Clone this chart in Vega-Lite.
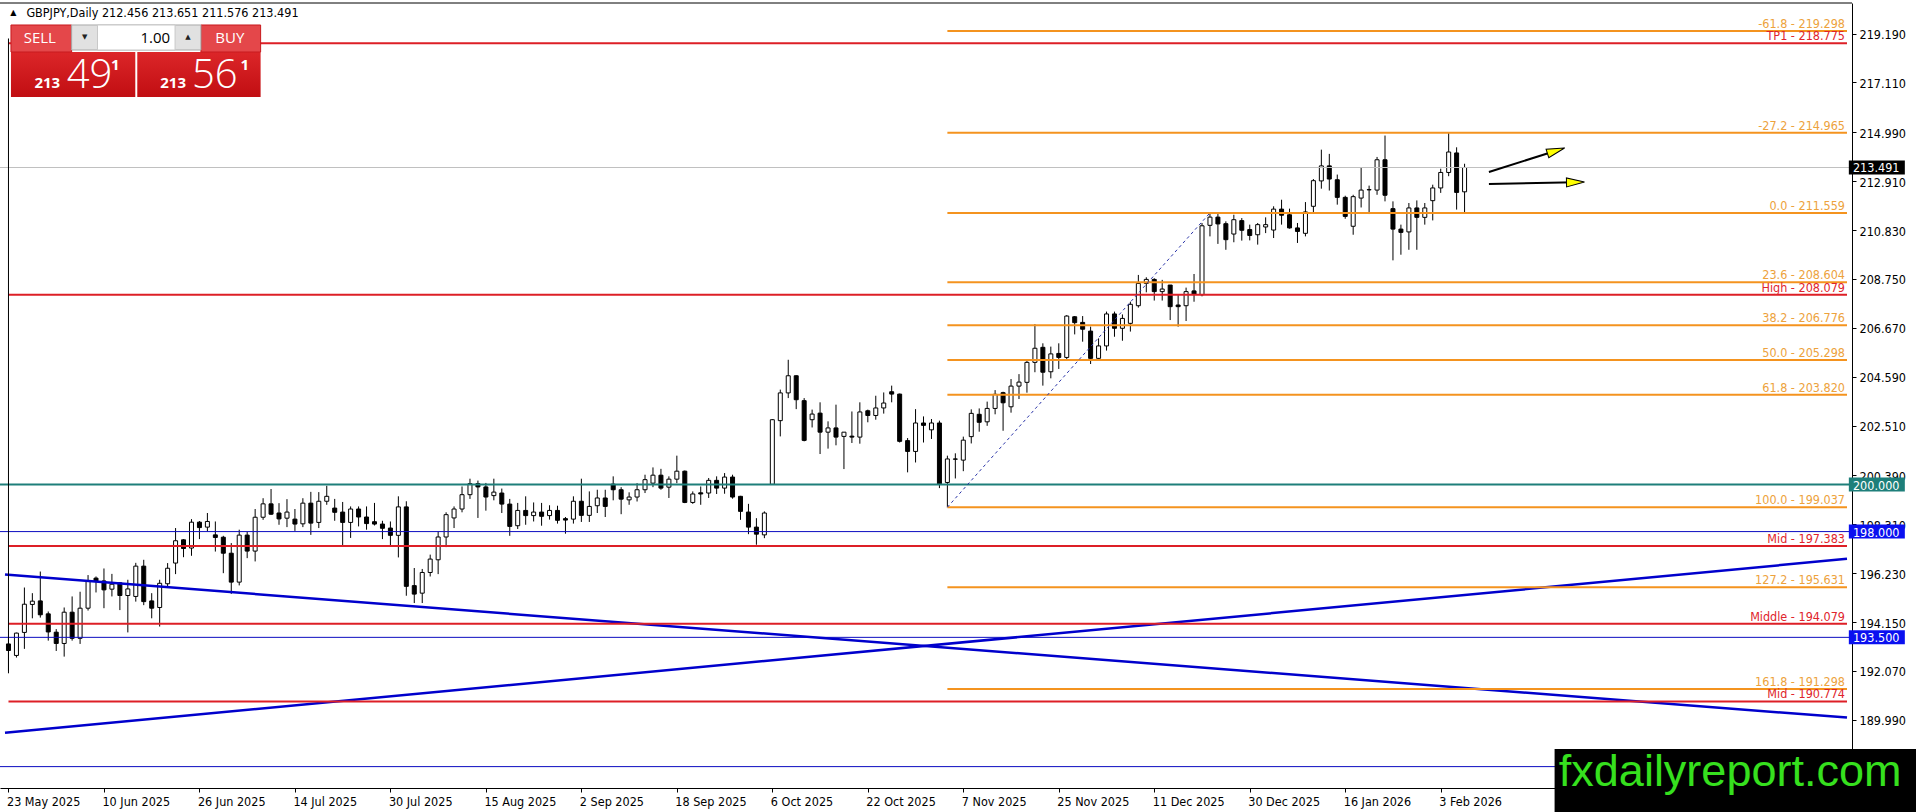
{
"$schema":"https://vega.github.io/schema/vega-lite/v6.json",
"width":1852,"height":785,
"autosize":{"type":"none"},
"padding":{"left":0,"top":3,"right":64,"bottom":24},
"background":"#ffffff",
"config":{"view":{"stroke":null},
"axisX":{"grid":false,"labelAlign":"left","labelBaseline":"top","labelPadding":3,"labelOffset":-2,"labelFlush":false,"labelOverlap":false,"labelBound":false,"labelFont":"DejaVu Sans Condensed, DejaVu Sans, sans-serif","labelFontSize":12.5,"labelColor":"#000000","tickSize":4,"tickColor":"#000000","domainColor":"#000000","domainWidth":1},
"axisY":{"grid":false,"labelFont":"DejaVu Sans Condensed, DejaVu Sans, sans-serif","labelFontSize":12.5,"labelColor":"#000000","labelPadding":3,"labelBaseline":"middle","labelOffset":1,"labelOverlap":false,"labelFlush":false,"labelBound":false,"tickSize":4,"tickColor":"#000000","domainColor":"#000000","domainWidth":1}},
"datasets":{
"candles":[
{"i":0,"o":193.22,"h":193.53,"l":191.97,"c":192.94},{"i":1,"o":192.73,"h":193.70,"l":192.64,"c":193.68},{"i":2,"o":193.71,"h":195.62,"l":193.01,"c":194.91},{"i":3,"o":194.90,"h":195.38,"l":194.31,"c":195.04},{"i":4,"o":195.05,"h":196.30,"l":194.34,"c":194.46},{"i":5,"o":194.50,"h":194.60,"l":193.36,"c":193.73},{"i":6,"o":193.72,"h":193.85,"l":192.92,"c":193.24},{"i":7,"o":193.24,"h":194.77,"l":192.68,"c":194.57},{"i":8,"o":194.57,"h":195.24,"l":193.36,"c":193.46},{"i":9,"o":193.46,"h":195.44,"l":193.22,"c":194.74},
{"i":10,"o":194.74,"h":196.15,"l":194.64,"c":195.90},{"i":11,"o":196.02,"h":196.09,"l":195.41,"c":195.90},{"i":12,"o":195.90,"h":196.43,"l":194.74,"c":195.52},{"i":13,"o":195.55,"h":196.20,"l":195.24,"c":195.76},{"i":14,"o":195.82,"h":195.85,"l":194.66,"c":195.28},{"i":15,"o":195.28,"h":195.95,"l":193.71,"c":195.56},{"i":16,"o":195.24,"h":196.67,"l":195.02,"c":196.53},{"i":17,"o":196.53,"h":196.80,"l":194.87,"c":195.02},{"i":18,"o":195.05,"h":195.38,"l":194.31,"c":194.74},{"i":19,"o":194.77,"h":195.95,"l":193.96,"c":195.80},
{"i":20,"o":195.78,"h":196.66,"l":195.66,"c":196.44},{"i":21,"o":196.66,"h":198.15,"l":196.19,"c":197.61},{"i":22,"o":197.65,"h":197.68,"l":196.91,"c":197.28},{"i":23,"o":197.30,"h":198.53,"l":196.97,"c":198.40},{"i":24,"o":198.40,"h":198.45,"l":197.68,"c":198.17},{"i":25,"o":198.19,"h":198.79,"l":198.00,"c":198.43},{"i":26,"o":197.86,"h":198.43,"l":197.15,"c":197.75},{"i":27,"o":197.76,"h":197.82,"l":196.23,"c":197.08},{"i":28,"o":197.08,"h":197.51,"l":195.35,"c":195.85},{"i":29,"o":195.85,"h":198.08,"l":195.71,"c":197.85},
{"i":30,"o":197.85,"h":197.99,"l":196.87,"c":197.17},{"i":31,"o":197.17,"h":198.96,"l":196.73,"c":198.61},{"i":32,"o":198.61,"h":199.42,"l":198.50,"c":199.18},{"i":33,"o":199.18,"h":199.81,"l":198.71,"c":198.74},{"i":34,"o":198.79,"h":199.21,"l":198.29,"c":198.54},{"i":35,"o":198.57,"h":199.38,"l":198.19,"c":198.83},{"i":36,"o":198.53,"h":198.96,"l":198.03,"c":198.32},{"i":37,"o":198.33,"h":199.42,"l":198.19,"c":199.21},{"i":38,"o":199.21,"h":199.69,"l":197.86,"c":198.36},{"i":39,"o":198.39,"h":199.68,"l":198.15,"c":199.29},
{"i":40,"o":199.29,"h":199.95,"l":199.14,"c":199.50},{"i":41,"o":199.00,"h":199.39,"l":198.46,"c":198.82},{"i":42,"o":198.83,"h":199.26,"l":197.40,"c":198.39},{"i":43,"o":198.39,"h":199.07,"l":197.73,"c":198.96},{"i":44,"o":198.96,"h":199.07,"l":198.22,"c":198.62},{"i":45,"o":198.62,"h":199.07,"l":198.08,"c":198.34},{"i":46,"o":198.42,"h":199.22,"l":198.26,"c":198.32},{"i":47,"o":198.32,"h":198.46,"l":197.68,"c":198.14},{"i":48,"o":198.15,"h":198.43,"l":197.41,"c":197.84},{"i":49,"o":197.84,"h":199.50,"l":196.90,"c":199.05},
{"i":50,"o":199.05,"h":199.29,"l":195.27,"c":195.67},{"i":51,"o":195.70,"h":196.45,"l":194.96,"c":195.34},{"i":52,"o":195.38,"h":196.41,"l":194.96,"c":196.26},{"i":53,"o":196.26,"h":197.02,"l":196.09,"c":196.83},{"i":54,"o":196.80,"h":198.01,"l":196.19,"c":197.77},{"i":55,"o":197.77,"h":198.82,"l":197.34,"c":198.72},{"i":56,"o":198.58,"h":199.07,"l":198.15,"c":198.96},{"i":57,"o":198.96,"h":199.92,"l":198.82,"c":199.57},{"i":58,"o":199.57,"h":200.25,"l":199.39,"c":200.04},{"i":59,"o":200.04,"h":200.17,"l":198.58,"c":199.90},
{"i":60,"o":199.90,"h":200.07,"l":198.89,"c":199.47},{"i":61,"o":199.53,"h":200.25,"l":199.33,"c":199.68},{"i":62,"o":199.64,"h":199.83,"l":198.79,"c":199.17},{"i":63,"o":199.17,"h":199.39,"l":197.82,"c":198.22},{"i":64,"o":198.25,"h":199.22,"l":198.11,"c":198.90},{"i":65,"o":198.90,"h":199.50,"l":198.29,"c":198.68},{"i":66,"o":198.68,"h":199.24,"l":198.43,"c":198.83},{"i":67,"o":198.83,"h":199.22,"l":198.25,"c":198.65},{"i":68,"o":198.68,"h":199.12,"l":198.51,"c":198.90},{"i":69,"o":198.90,"h":199.10,"l":198.34,"c":198.48},
{"i":70,"o":198.55,"h":198.62,"l":197.91,"c":198.49},{"i":71,"o":198.53,"h":199.50,"l":198.34,"c":199.29},{"i":72,"o":199.29,"h":200.25,"l":198.41,"c":198.69},{"i":73,"o":198.69,"h":199.71,"l":198.41,"c":199.07},{"i":74,"o":199.10,"h":199.78,"l":198.79,"c":199.43},{"i":75,"o":199.43,"h":199.78,"l":198.62,"c":199.07},{"i":76,"o":200.02,"h":200.35,"l":199.33,"c":199.78},{"i":77,"o":199.78,"h":199.89,"l":198.74,"c":199.38},{"i":78,"o":199.35,"h":199.67,"l":199.14,"c":199.47},{"i":79,"o":199.47,"h":200.06,"l":199.28,"c":199.78},
{"i":80,"o":199.78,"h":200.42,"l":199.64,"c":200.21},{"i":81,"o":200.06,"h":200.73,"l":199.89,"c":200.40},{"i":82,"o":200.40,"h":200.67,"l":199.78,"c":199.85},{"i":83,"o":199.89,"h":200.35,"l":199.43,"c":200.23},{"i":84,"o":200.23,"h":201.23,"l":200.06,"c":200.57},{"i":85,"o":200.57,"h":200.60,"l":199.21,"c":199.24},{"i":86,"o":199.24,"h":199.71,"l":199.18,"c":199.60},{"i":87,"o":199.65,"h":199.92,"l":199.14,"c":199.60},{"i":88,"o":199.64,"h":200.28,"l":199.43,"c":200.18},{"i":89,"o":200.18,"h":200.35,"l":199.60,"c":199.85},
{"i":90,"o":199.85,"h":200.49,"l":199.61,"c":200.32},{"i":91,"o":200.32,"h":200.42,"l":199.40,"c":199.47},{"i":92,"o":199.50,"h":199.52,"l":198.50,"c":198.86},{"i":93,"o":198.83,"h":199.18,"l":197.89,"c":198.19},{"i":94,"o":198.19,"h":198.57,"l":197.44,"c":197.89},{"i":95,"o":197.86,"h":198.86,"l":197.72,"c":198.79},{"i":96,"o":200.01,"h":202.79,"l":200.01,"c":202.76},{"i":97,"o":202.72,"h":204.04,"l":202.05,"c":203.90},{"i":98,"o":203.90,"h":205.31,"l":203.68,"c":204.63},{"i":99,"o":204.63,"h":204.65,"l":203.21,"c":203.61},
{"i":100,"o":203.57,"h":203.68,"l":201.84,"c":201.88},{"i":101,"o":202.76,"h":203.19,"l":202.43,"c":203.00},{"i":102,"o":203.04,"h":203.50,"l":201.30,"c":202.23},{"i":103,"o":202.23,"h":202.69,"l":201.53,"c":202.41},{"i":104,"o":202.41,"h":203.40,"l":201.67,"c":202.02},{"i":105,"o":202.05,"h":202.23,"l":200.66,"c":202.23},{"i":106,"o":202.06,"h":203.11,"l":201.77,"c":202.02},{"i":107,"o":202.02,"h":203.50,"l":201.74,"c":203.09},{"i":108,"o":203.14,"h":203.19,"l":202.65,"c":202.94},{"i":109,"o":202.94,"h":203.78,"l":202.76,"c":203.26},
{"i":110,"o":203.26,"h":203.92,"l":203.02,"c":203.47},{"i":111,"o":203.95,"h":204.21,"l":203.50,"c":203.85},{"i":112,"o":203.85,"h":203.87,"l":201.79,"c":201.84},{"i":113,"o":201.87,"h":201.98,"l":200.52,"c":201.41},{"i":114,"o":201.41,"h":203.21,"l":200.94,"c":202.62},{"i":115,"o":202.62,"h":202.90,"l":201.79,"c":202.52},{"i":116,"o":202.33,"h":202.79,"l":201.94,"c":202.62},{"i":117,"o":202.62,"h":202.72,"l":199.85,"c":200.03},{"i":118,"o":200.09,"h":201.23,"l":199.037,"c":201.09},{"i":119,"o":201.09,"h":201.33,"l":200.26,"c":201.08},
{"i":120,"o":201.04,"h":202.04,"l":200.57,"c":201.89},{"i":121,"o":202.04,"h":203.20,"l":201.75,"c":203.03},{"i":122,"o":202.99,"h":203.24,"l":202.25,"c":202.65},{"i":123,"o":202.67,"h":203.53,"l":202.50,"c":203.24},{"i":124,"o":203.24,"h":204.02,"l":202.99,"c":203.84},{"i":125,"o":203.91,"h":203.95,"l":202.29,"c":203.48},{"i":126,"o":203.31,"h":204.49,"l":203.06,"c":204.19},{"i":127,"o":204.19,"h":204.70,"l":203.64,"c":204.36},{"i":128,"o":204.35,"h":205.33,"l":203.91,"c":205.20},{"i":129,"o":205.20,"h":206.83,"l":204.78,"c":205.80},
{"i":130,"o":205.84,"h":206.01,"l":204.21,"c":204.78},{"i":131,"o":204.80,"h":205.87,"l":204.52,"c":205.56},{"i":132,"o":205.58,"h":206.01,"l":204.92,"c":205.41},{"i":133,"o":205.41,"h":207.21,"l":205.27,"c":207.17},{"i":134,"o":207.14,"h":207.17,"l":206.39,"c":206.89},{"i":135,"o":206.90,"h":207.17,"l":206.08,"c":206.61},{"i":136,"o":206.53,"h":206.72,"l":205.13,"c":205.37},{"i":137,"o":205.37,"h":206.22,"l":205.26,"c":205.90},{"i":138,"o":205.90,"h":207.36,"l":205.70,"c":207.26},{"i":139,"o":207.26,"h":207.36,"l":206.29,"c":206.65},
{"i":140,"o":206.65,"h":207.24,"l":206.12,"c":207.07},{"i":141,"o":206.86,"h":207.78,"l":206.51,"c":207.67},{"i":142,"o":207.61,"h":208.92,"l":207.53,"c":208.56},{"i":143,"o":208.56,"h":208.82,"l":208.18,"c":208.73},{"i":144,"o":208.73,"h":208.78,"l":207.83,"c":208.21},{"i":145,"o":208.21,"h":208.71,"l":207.83,"c":208.32},{"i":146,"o":208.49,"h":208.49,"l":207.00,"c":207.57},{"i":147,"o":207.64,"h":208.07,"l":206.72,"c":207.57},{"i":148,"o":207.61,"h":208.38,"l":206.96,"c":208.21},{"i":149,"o":208.24,"h":208.96,"l":207.78,"c":208.10},
{"i":150,"o":208.08,"h":211.13,"l":208.01,"c":211.01},{"i":151,"o":211.03,"h":211.559,"l":210.56,"c":211.38},{"i":152,"o":211.38,"h":211.51,"l":210.24,"c":211.09},{"i":153,"o":211.10,"h":211.20,"l":209.99,"c":210.42},{"i":154,"o":210.66,"h":211.48,"l":210.31,"c":211.27},{"i":155,"o":211.23,"h":211.34,"l":210.38,"c":210.82},{"i":156,"o":210.85,"h":211.06,"l":210.39,"c":210.60},{"i":157,"o":210.63,"h":211.13,"l":210.21,"c":211.06},{"i":158,"o":210.96,"h":211.37,"l":210.70,"c":211.06},{"i":159,"o":210.83,"h":211.84,"l":210.49,"c":211.72},
{"i":160,"o":211.72,"h":212.12,"l":211.06,"c":211.46},{"i":161,"o":211.48,"h":211.74,"l":210.89,"c":210.92},{"i":162,"o":210.92,"h":211.13,"l":210.28,"c":210.77},{"i":163,"o":210.69,"h":212.02,"l":210.56,"c":211.60},{"i":164,"o":211.84,"h":213.00,"l":211.55,"c":212.93},{"i":165,"o":212.92,"h":214.25,"l":212.59,"c":213.56},{"i":166,"o":213.56,"h":214.07,"l":212.51,"c":213.00},{"i":167,"o":212.97,"h":213.19,"l":211.91,"c":212.22},{"i":168,"o":212.22,"h":212.29,"l":211.31,"c":211.41},{"i":169,"o":210.99,"h":212.33,"l":210.63,"c":212.25},
{"i":170,"o":212.19,"h":213.50,"l":211.79,"c":212.53},{"i":171,"o":212.55,"h":212.72,"l":211.51,"c":212.54},{"i":172,"o":212.53,"h":213.94,"l":212.33,"c":213.82},{"i":173,"o":213.82,"h":214.85,"l":212.05,"c":212.31},{"i":174,"o":211.74,"h":212.05,"l":209.54,"c":210.87},{"i":175,"o":210.87,"h":211.06,"l":209.78,"c":210.73},{"i":176,"o":210.75,"h":211.98,"l":209.99,"c":211.77},{"i":177,"o":211.77,"h":212.09,"l":209.99,"c":211.37},{"i":178,"o":211.37,"h":211.98,"l":211.06,"c":211.77},{"i":179,"o":212.08,"h":212.76,"l":211.24,"c":212.62},
{"i":180,"o":212.62,"h":213.44,"l":212.41,"c":213.28},{"i":181,"o":213.28,"h":214.965,"l":213.12,"c":214.15},{"i":182,"o":214.11,"h":214.35,"l":211.70,"c":212.43},{"i":183,"o":212.456,"h":213.651,"l":211.576,"c":213.491}
],
"fib":[
{"p":219.298,"t":"-61.8 - 219.298"},{"p":214.965,"t":"-27.2 - 214.965"},{"p":211.559,"t":"0.0 - 211.559"},{"p":208.604,"t":"23.6 - 208.604"},{"p":206.776,"t":"38.2 - 206.776"},{"p":205.298,"t":"50.0 - 205.298"},{"p":203.820,"t":"61.8 - 203.820"},{"p":199.037,"t":"100.0 - 199.037"},{"p":195.631,"t":"127.2 - 195.631"},{"p":191.298,"t":"161.8 - 191.298"}
],
"red":[
{"p":218.775,"t":"TP1 - 218.775"},{"p":208.079,"t":"High - 208.079"},{"p":197.383,"t":"Mid - 197.383"},{"p":194.079,"t":"Middle - 194.079"},{"p":190.774,"t":"Mid - 190.774"}
],
"blue":[{"p":198.0},{"p":193.5},{"p":188.0}],
"trend":[
{"id":"down","i":-0.4375,"p":196.17},{"id":"down","i":231.0625,"p":190.085},
{"id":"up","i":-0.4375,"p":189.44},{"id":"up","i":231.0625,"p":196.84}
],
"swing":[{"i":118,"p":199.037},{"i":151,"p":211.559}],
"shafts":[
{"id":"a","i":186.06,"p":213.298},{"id":"a","i":194.49,"p":214.204},
{"id":"b","i":186.06,"p":212.79},{"id":"b","i":196.94,"p":212.864}
],
"tags":[
{"p":213.491,"t":"213.491","k":"last"},{"p":200.0,"t":"200.000","k":"teal"},{"p":198.0,"t":"198.000","k":"blue"},{"p":193.5,"t":"193.500","k":"blue"}
]
},
"layer":[
{"data":{"name":"candles"},"mark":{"type":"rule","color":"#000000","strokeWidth":1},
"encoding":{
"x":{"field":"i","type":"quantitative","title":null,"scale":{"domain":[-0.4375,231.0625],"nice":false,"zero":false},
"axis":{"orient":"bottom","title":null,"values":[0,12,24,36,48,60,72,84,96,108,120,132,144,156,168,180],
"labelExpr":"['23 May 2025','10 Jun 2025','26 Jun 2025','14 Jul 2025','30 Jul 2025','15 Aug 2025','2 Sep 2025','18 Sep 2025','6 Oct 2025','22 Oct 2025','7 Nov 2025','25 Nov 2025','11 Dec 2025','30 Dec 2025','16 Jan 2026','3 Feb 2026'][round(datum.value/12)]"}},
"y":{"field":"l","type":"quantitative","title":null,"scale":{"domain":[187.09,220.49],"nice":false,"zero":false},
"axis":{"orient":"right","title":null,"values":[189.99,192.07,194.15,196.23,198.31,200.39,202.51,204.59,206.67,208.75,210.83,212.91,214.99,217.11,219.19],"format":".3f"}},
"y2":{"field":"h"}}},
{"data":{"name":"candles"},"mark":{"type":"bar","width":4,"stroke":"#000000","strokeWidth":1},
"encoding":{
"x":{"field":"i","type":"quantitative","title":null,"scale":{"domain":[-0.4375,231.0625],"nice":false,"zero":false}},
"y":{"field":"o","type":"quantitative","title":null,"scale":{"domain":[187.09,220.49],"nice":false,"zero":false}},
"y2":{"field":"c"},
"fill":{"condition":{"test":"datum.c >= datum.o","value":"#ffffff"},"value":"#000000"}}},
{"data":{"name":"blue"},"mark":{"type":"rule","color":"#0c0cc0","strokeWidth":1},
"encoding":{"y":{"field":"p","type":"quantitative","title":null,"scale":{"domain":[187.09,220.49],"nice":false,"zero":false}}}},
{"data":{"values":[{}]},"mark":{"type":"rule","color":"#c0c0c0","strokeWidth":1},
"encoding":{"y":{"datum":213.491,"type":"quantitative","title":null,"scale":{"domain":[187.09,220.49],"nice":false,"zero":false}}}},
{"data":{"values":[{}]},"mark":{"type":"rule","color":"#1e7f7a","strokeWidth":2},
"encoding":{"y":{"datum":200.0,"type":"quantitative","title":null,"scale":{"domain":[187.09,220.49],"nice":false,"zero":false}}}},
{"data":{"name":"trend"},"mark":{"type":"line","color":"#0000cc","strokeWidth":2.5,"clip":true},
"encoding":{
"x":{"field":"i","type":"quantitative","title":null,"scale":{"domain":[-0.4375,231.0625],"nice":false,"zero":false}},
"y":{"field":"p","type":"quantitative","title":null,"scale":{"domain":[187.09,220.49],"nice":false,"zero":false}},
"detail":{"field":"id","type":"nominal"}}},
{"data":{"name":"red"},"mark":{"type":"rule","color":"#dd1f26","strokeWidth":2},
"encoding":{
"x":{"datum":0,"type":"quantitative","title":null,"scale":{"domain":[-0.4375,231.0625],"nice":false,"zero":false}},
"x2":{"datum":231.0625},
"y":{"field":"p","type":"quantitative","title":null,"scale":{"domain":[187.09,220.49],"nice":false,"zero":false}}}},
{"data":{"name":"fib"},"mark":{"type":"rule","color":"#f4931f","strokeWidth":2},
"encoding":{
"x":{"datum":118,"type":"quantitative","title":null,"scale":{"domain":[-0.4375,231.0625],"nice":false,"zero":false}},
"x2":{"datum":231.0625},
"y":{"field":"p","type":"quantitative","title":null,"scale":{"domain":[187.09,220.49],"nice":false,"zero":false}}}},
{"data":{"name":"swing"},"mark":{"type":"line","color":"#2a34a8","strokeWidth":1,"strokeDash":[3,3]},
"encoding":{
"x":{"field":"i","type":"quantitative","title":null,"scale":{"domain":[-0.4375,231.0625],"nice":false,"zero":false}},
"y":{"field":"p","type":"quantitative","title":null,"scale":{"domain":[187.09,220.49],"nice":false,"zero":false}}}},
{"data":{"name":"shafts"},"mark":{"type":"line","color":"#000000","strokeWidth":2},
"encoding":{
"x":{"field":"i","type":"quantitative","title":null,"scale":{"domain":[-0.4375,231.0625],"nice":false,"zero":false}},
"y":{"field":"p","type":"quantitative","title":null,"scale":{"domain":[187.09,220.49],"nice":false,"zero":false}},
"detail":{"field":"id","type":"nominal"}}},
{"data":{"values":[{}]},"mark":{"type":"point","shape":"M1,0L-1,-0.5L-1,0.5Z","size":324,"filled":true,"fill":"#ffff00","stroke":"#000000","strokeWidth":1,"opacity":1,"angle":-17.5},
"encoding":{
"x":{"datum":194.49,"type":"quantitative","title":null,"scale":{"domain":[-0.4375,231.0625],"nice":false,"zero":false}},
"y":{"datum":214.204,"type":"quantitative","title":null,"scale":{"domain":[187.09,220.49],"nice":false,"zero":false}}}},
{"data":{"values":[{}]},"mark":{"type":"point","shape":"M1,0L-1,-0.5L-1,0.5Z","size":324,"filled":true,"fill":"#ffff00","stroke":"#000000","strokeWidth":1,"opacity":1,"angle":-1.2},
"encoding":{
"x":{"datum":196.94,"type":"quantitative","title":null,"scale":{"domain":[-0.4375,231.0625],"nice":false,"zero":false}},
"y":{"datum":212.864,"type":"quantitative","title":null,"scale":{"domain":[187.09,220.49],"nice":false,"zero":false}}}},
{"data":{"name":"fib"},"mark":{"type":"text","align":"right","baseline":"alphabetic","dy":-3,"font":"DejaVu Sans Condensed, DejaVu Sans, sans-serif","fontSize":12.5,"color":"#eda23c"},
"encoding":{
"x":{"datum":230.81,"type":"quantitative","title":null,"scale":{"domain":[-0.4375,231.0625],"nice":false,"zero":false}},
"y":{"field":"p","type":"quantitative","title":null,"scale":{"domain":[187.09,220.49],"nice":false,"zero":false}},
"text":{"field":"t"}}},
{"data":{"name":"red"},"mark":{"type":"text","align":"right","baseline":"alphabetic","dy":-3,"font":"DejaVu Sans Condensed, DejaVu Sans, sans-serif","fontSize":12.5,"color":"#e0242c"},
"encoding":{
"x":{"datum":230.81,"type":"quantitative","title":null,"scale":{"domain":[-0.4375,231.0625],"nice":false,"zero":false}},
"y":{"field":"p","type":"quantitative","title":null,"scale":{"domain":[187.09,220.49],"nice":false,"zero":false}},
"text":{"field":"t"}}},
{"data":{"values":[{}]},"mark":{"type":"rule","color":"#000000","strokeWidth":1},
"encoding":{"y":{"datum":220.49,"type":"quantitative","title":null,"scale":{"domain":[187.09,220.49],"nice":false,"zero":false}}}},
{"data":{"values":[{}]},"mark":{"type":"rule","color":"#000000","strokeWidth":1},
"encoding":{
"x":{"datum":0,"type":"quantitative","title":null,"scale":{"domain":[-0.4375,231.0625],"nice":false,"zero":false}},
"y":{"datum":218.98,"type":"quantitative","title":null,"scale":{"domain":[187.09,220.49],"nice":false,"zero":false}},
"y2":{"datum":192.07}}},
{"data":{"values":[{"x1":0.3125,"x2":15.9375},{"x1":16.1875,"x2":31.6875}]},"mark":{"type":"rect","fill":{"gradient":"linear","x1":0,"y1":0,"x2":0,"y2":1,"stops":[{"offset":0,"color":"#dc2629"},{"offset":1,"color":"#c10e12"}]}},
"encoding":{
"x":{"field":"x1","type":"quantitative","title":null,"scale":{"domain":[-0.4375,231.0625],"nice":false,"zero":false}},
"x2":{"field":"x2"},
"y":{"datum":218.405,"type":"quantitative","title":null,"scale":{"domain":[187.09,220.49],"nice":false,"zero":false}},
"y2":{"datum":216.49}}},
{"data":{"values":[{"x1":0.3125,"x2":7.9375},{"x1":24.1875,"x2":31.6875}]},"mark":{"type":"rect","fill":"#e4474a","stroke":"#c81a1e","strokeWidth":1},
"encoding":{
"x":{"field":"x1","type":"quantitative","title":null,"scale":{"domain":[-0.4375,231.0625],"nice":false,"zero":false}},
"x2":{"field":"x2"},
"y":{"datum":219.554,"type":"quantitative","title":null,"scale":{"domain":[187.09,220.49],"nice":false,"zero":false}},
"y2":{"datum":218.405}}},
{"data":{"values":[{}]},"mark":{"type":"rect","fill":"#e1e1e1","stroke":"#a8a8a8","strokeWidth":1},
"encoding":{
"x":{"datum":7.9375,"type":"quantitative","title":null,"scale":{"domain":[-0.4375,231.0625],"nice":false,"zero":false}},
"x2":{"datum":24.1875},
"y":{"datum":219.554,"type":"quantitative","title":null,"scale":{"domain":[187.09,220.49],"nice":false,"zero":false}},
"y2":{"datum":218.49}}},
{"data":{"values":[{}]},"mark":{"type":"rect","fill":"#ffffff","stroke":"#c8c8c8","strokeWidth":1},
"encoding":{
"x":{"datum":11.1875,"type":"quantitative","title":null,"scale":{"domain":[-0.4375,231.0625],"nice":false,"zero":false}},
"x2":{"datum":20.9375},
"y":{"datum":219.554,"type":"quantitative","title":null,"scale":{"domain":[187.09,220.49],"nice":false,"zero":false}},
"y2":{"datum":218.49}}},
{"data":{"values":[{"x":3.9375,"t":"SELL"},{"x":27.8125,"t":"BUY"}]},"mark":{"type":"text","align":"center","baseline":"middle","font":"Open Sans, Roboto, sans-serif","fontSize":15,"color":"#ffffff"},
"encoding":{
"x":{"field":"x","type":"quantitative","title":null,"scale":{"domain":[-0.4375,231.0625],"nice":false,"zero":false}},
"y":{"datum":219.0,"type":"quantitative","title":null,"scale":{"domain":[187.09,220.49],"nice":false,"zero":false}},
"text":{"field":"t"}}},
{"data":{"values":[{"x":9.5625,"t":"▼"},{"x":22.5625,"t":"▲"}]},"mark":{"type":"text","align":"center","baseline":"middle","font":"DejaVu Sans, sans-serif","fontSize":7,"color":"#222222"},
"encoding":{
"x":{"field":"x","type":"quantitative","title":null,"scale":{"domain":[-0.4375,231.0625],"nice":false,"zero":false}},
"y":{"datum":219.043,"type":"quantitative","title":null,"scale":{"domain":[187.09,220.49],"nice":false,"zero":false}},
"text":{"field":"t"}}},
{"data":{"values":[{}]},"mark":{"type":"text","align":"right","baseline":"middle","font":"Open Sans, Roboto, sans-serif","fontSize":15,"color":"#000000","text":"1.00"},
"encoding":{
"x":{"datum":20.3125,"type":"quantitative","title":null,"scale":{"domain":[-0.4375,231.0625],"nice":false,"zero":false}},
"y":{"datum":219.0,"type":"quantitative","title":null,"scale":{"domain":[187.09,220.49],"nice":false,"zero":false}}}},
{"data":{"values":[{"x":4.875,"t":"213"},{"x":20.6875,"t":"213"}]},"mark":{"type":"text","align":"center","baseline":"alphabetic","font":"Open Sans, Roboto, sans-serif","fontSize":15,"fontWeight":"bold","color":"#ffffff"},
"encoding":{
"x":{"field":"x","type":"quantitative","title":null,"scale":{"domain":[-0.4375,231.0625],"nice":false,"zero":false}},
"y":{"datum":216.873,"type":"quantitative","title":null,"scale":{"domain":[187.09,220.49],"nice":false,"zero":false}},
"text":{"field":"t"}}},
{"data":{"values":[{"x":7.3125,"t":"49"},{"x":23.0625,"t":"56"}]},"mark":{"type":"text","align":"left","baseline":"alphabetic","font":"Open Sans, Roboto, sans-serif","fontSize":40,"fontWeight":300,"color":"#ffffff"},
"encoding":{
"x":{"field":"x","type":"quantitative","title":null,"scale":{"domain":[-0.4375,231.0625],"nice":false,"zero":false}},
"y":{"datum":216.873,"type":"quantitative","title":null,"scale":{"domain":[187.09,220.49],"nice":false,"zero":false}},
"text":{"field":"t"}}},
{"data":{"values":[{"x":12.9,"t":"1"},{"x":29.15,"t":"1"}]},"mark":{"type":"text","align":"left","baseline":"alphabetic","font":"Open Sans, Roboto, sans-serif","fontSize":15,"fontWeight":"bold","color":"#ffffff"},
"encoding":{
"x":{"field":"x","type":"quantitative","title":null,"scale":{"domain":[-0.4375,231.0625],"nice":false,"zero":false}},
"y":{"datum":217.64,"type":"quantitative","title":null,"scale":{"domain":[187.09,220.49],"nice":false,"zero":false}},
"text":{"field":"t"}}},
{"data":{"values":[{}]},"mark":{"type":"text","align":"center","baseline":"middle","font":"DejaVu Sans, sans-serif","fontSize":8,"color":"#000000","text":"▲"},
"encoding":{
"x":{"datum":0.6125,"type":"quantitative","title":null,"scale":{"domain":[-0.4375,231.0625],"nice":false,"zero":false}},
"y":{"datum":220.064,"type":"quantitative","title":null,"scale":{"domain":[187.09,220.49],"nice":false,"zero":false}}}},
{"data":{"values":[{}]},"mark":{"type":"text","align":"left","baseline":"middle","font":"DejaVu Sans Condensed, DejaVu Sans, sans-serif","fontSize":12.5,"color":"#000000","text":"GBPJPY,Daily  212.456 213.651 211.576 213.491"},
"encoding":{
"x":{"datum":2.25,"type":"quantitative","title":null,"scale":{"domain":[-0.4375,231.0625],"nice":false,"zero":false}},
"y":{"datum":220.064,"type":"quantitative","title":null,"scale":{"domain":[187.09,220.49],"nice":false,"zero":false}}}},
{"data":{"name":"tags"},"mark":{"type":"point","shape":"M-1,-0.25L1,-0.25L1,0.25L-1,0.25Z","size":3136,"filled":true,"opacity":1,"strokeWidth":0},
"encoding":{
"x":{"datum":234.8125,"type":"quantitative","title":null,"scale":{"domain":[-0.4375,231.0625],"nice":false,"zero":false}},
"y":{"field":"p","type":"quantitative","title":null,"scale":{"domain":[187.09,220.49],"nice":false,"zero":false}},
"fill":{"field":"k","type":"nominal","scale":{"domain":["last","teal","blue"],"range":["#000000","#1e7f7a","#0a10f0"]},"legend":null}}},
{"data":{"name":"tags"},"mark":{"type":"text","align":"left","baseline":"middle","dy":1,"font":"DejaVu Sans Condensed, DejaVu Sans, sans-serif","fontSize":12.5,"color":"#ffffff"},
"encoding":{
"x":{"datum":231.8125,"type":"quantitative","title":null,"scale":{"domain":[-0.4375,231.0625],"nice":false,"zero":false}},
"y":{"field":"p","type":"quantitative","title":null,"scale":{"domain":[187.09,220.49],"nice":false,"zero":false}},
"text":{"field":"t"}}},
{"data":{"values":[{}]},"mark":{"type":"rect","fill":"#000000"},
"encoding":{
"x":{"datum":194.3125,"type":"quantitative","title":null,"scale":{"domain":[-0.4375,231.0625],"nice":false,"zero":false}},
"x2":{"datum":240},
"y":{"datum":188.745,"type":"quantitative","title":null,"scale":{"domain":[187.09,220.49],"nice":false,"zero":false}},
"y2":{"datum":185.8}}},
{"data":{"values":[{}]},"mark":{"type":"text","align":"center","baseline":"alphabetic","font":"Liberation Sans, Arial, sans-serif","fontSize":45,"color":"#36e01e","text":"fxdailyreport.com"},
"encoding":{
"x":{"datum":216.375,"type":"quantitative","title":null,"scale":{"domain":[-0.4375,231.0625],"nice":false,"zero":false}},
"y":{"datum":187.17,"type":"quantitative","title":null,"scale":{"domain":[187.09,220.49],"nice":false,"zero":false}}}}
]
}
